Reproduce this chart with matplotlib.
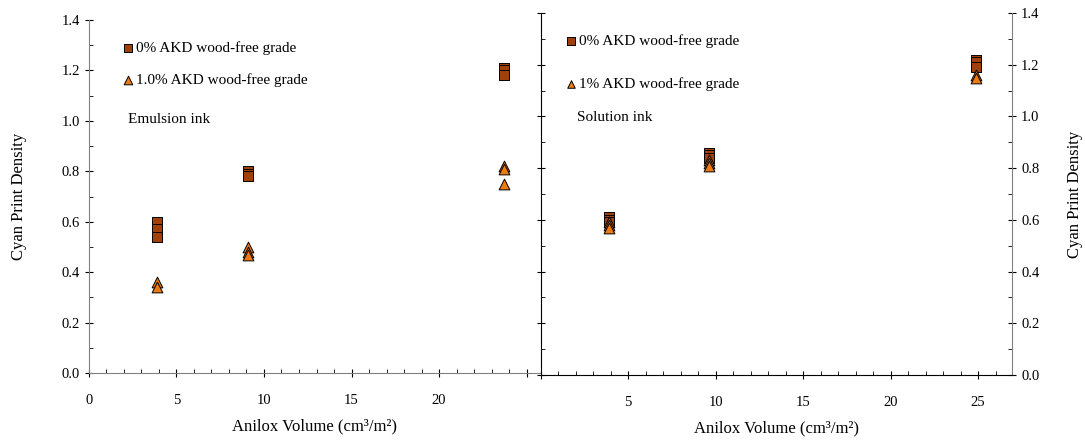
import numpy as np
import matplotlib
matplotlib.use('Agg')
import matplotlib.pyplot as plt
from matplotlib.ticker import MultipleLocator

plt.rcParams['font.family'] = ['Liberation Serif', 'DejaVu Serif']

# Emulsion ink (left panel)
emul_x_0 = [3.9, 3.9, 3.9, 9.1, 9.1, 9.1, 23.7, 23.7, 23.7]
emul_y_0 = [0.60, 0.57, 0.54, 0.80, 0.79, 0.78, 1.21, 1.20, 1.18]
emul_x_1 = [3.9, 3.9, 9.1, 9.1, 9.1, 23.7, 23.7, 23.7]
emul_y_1 = [0.36, 0.34, 0.50, 0.48, 0.47, 0.82, 0.81, 0.75]

# Solution ink (right panel)
sol_x_0 = [3.9, 3.9, 3.9, 9.6, 9.6, 9.6, 24.9, 24.9, 24.9]
sol_y_0 = [0.61, 0.60, 0.59, 0.86, 0.85, 0.84, 1.22, 1.21, 1.19]
sol_x_1 = [3.9, 3.9, 3.9, 9.6, 9.6, 9.6, 24.9, 24.9]
sol_y_1 = [0.59, 0.58, 0.57, 0.83, 0.82, 0.81, 1.16, 1.15]

left_labels = ['0% AKD wood-free grade', '1.0% AKD wood-free grade']
right_labels = ['0% AKD wood-free grade', '1% AKD wood-free grade']

sq_color = '#A0400A'
tri_color = '#EE7A12'

fig = plt.figure(figsize=(10.85, 4.42), dpi=100)
axL = fig.add_axes([0.0820, 0.1561, 0.4157, 0.7986])
axR = fig.add_axes([0.4982, 0.1516, 0.4346, 0.8190])

def style_axis(ax, xmax):
    ax.set_xlim(0, xmax)
    ax.set_ylim(0, 1.4)
    ax.xaxis.set_major_locator(MultipleLocator(5))
    ax.xaxis.set_minor_locator(MultipleLocator(1))
    ax.yaxis.set_major_locator(MultipleLocator(0.2))
    ax.yaxis.set_minor_locator(MultipleLocator(0.1))
    ax.spines['top'].set_visible(False)
    ax.tick_params(axis='both', which='major', labelsize=10.5, length=6, direction='inout')
    ax.tick_params(axis='x', which='major', pad=12)
    ax.tick_params(axis='both', which='minor', length=3, direction='in')
    ax.set_xlabel('Anilox Volume (cm³/m²)', fontsize=12, labelpad=8)

# left panel
style_axis(axL, 25.77)
axL.spines['right'].set_visible(False)
axL.spines['left'].set_color('#808080')
axL.spines['bottom'].set_color('#808080')
axL.yaxis.set_major_formatter(plt.FuncFormatter(lambda v, p: f'{v:.1f}'))
axL.xaxis.set_major_formatter(plt.FuncFormatter(lambda v, p: '' if v > 22 else f'{v:.0f}'))
axL.set_ylabel('Cyan Print Density', fontsize=12, labelpad=25)
axL.scatter(emul_x_0, emul_y_0, marker='s', s=55, color=sq_color, edgecolor='black',
            linewidth=0.7, label=left_labels[0], zorder=3)
axL.scatter(emul_x_1, emul_y_1, marker='^', s=60, color=tri_color, edgecolor='black',
            linewidth=0.7, label=left_labels[1], zorder=4)
axL.legend(loc='upper left', bbox_to_anchor=(0.04, 0.98), frameon=False, fontsize=11,
           handletextpad=0.0, handlelength=1.0, labelspacing=1.2, markerscale=0.8)
axL.text(0.086, 0.717, 'Emulsion ink', transform=axL.transAxes, fontsize=11, va='center')

# right panel
style_axis(axR, 26.94)
axR.yaxis.tick_right()
axR.yaxis.set_label_position('right')
axR.tick_params(axis='y', which='both', left=True, right=True, labelleft=False, labelright=True)
axR.yaxis.set_major_formatter(plt.FuncFormatter(lambda v, p: f'{v:.1f}'))
axR.xaxis.set_major_formatter(plt.FuncFormatter(lambda v, p: '' if v == 0 else f'{v:.0f}'))
axR.spines['right'].set_color('#808080')
axR.set_ylabel('Cyan Print Density', fontsize=12, labelpad=20)
axR.scatter(sol_x_0, sol_y_0, marker='s', s=55, color=sq_color, edgecolor='black',
            linewidth=0.7, label=right_labels[0], zorder=3)
axR.scatter(sol_x_1, sol_y_1, marker='^', s=60, color=tri_color, edgecolor='black',
            linewidth=0.7, label=right_labels[1], zorder=4)
axR.legend(loc='upper left', bbox_to_anchor=(0.02, 0.98), frameon=False, fontsize=11,
           handletextpad=0.0, handlelength=1.0, labelspacing=1.9, markerscale=0.7)
axR.text(0.077, 0.71, 'Solution ink', transform=axR.transAxes, fontsize=11, va='center')

fig.savefig('out.png', dpi=100)
